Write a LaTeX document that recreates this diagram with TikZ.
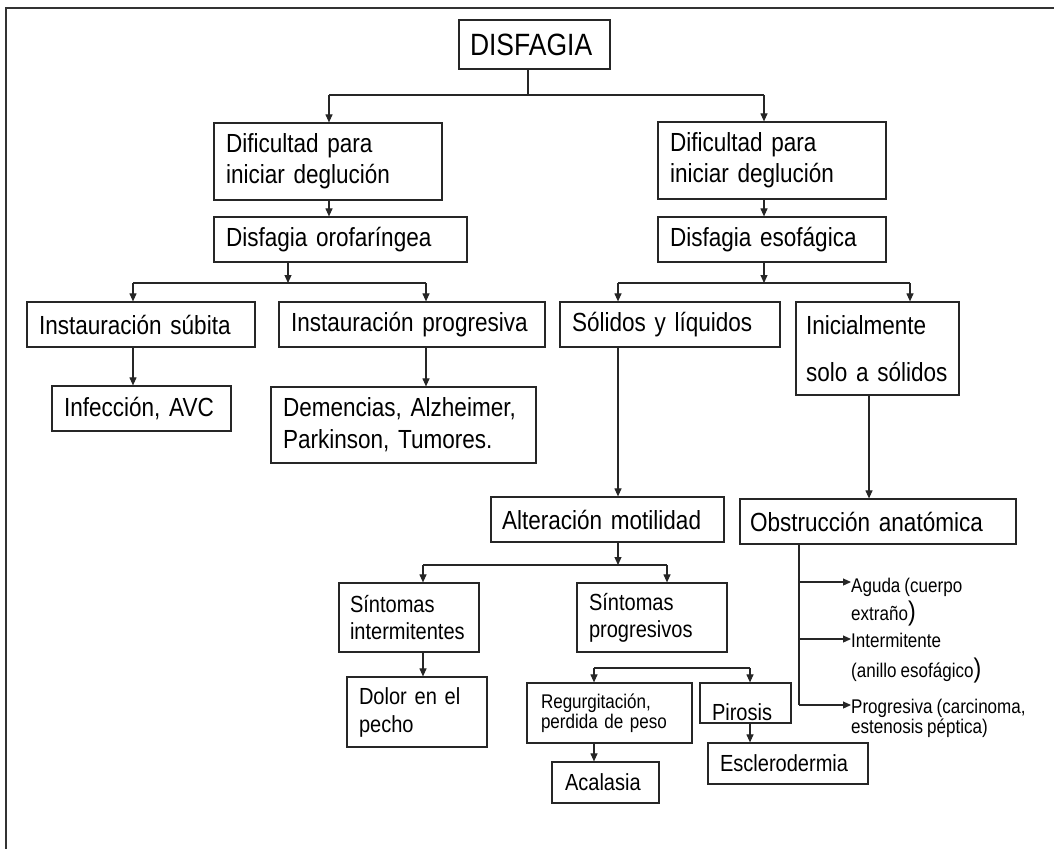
\documentclass[tikz,border=0pt]{standalone}
\usepackage{fontspec}
\setmainfont{Liberation Sans}[FakeStretch=0.86, WordSpace=0.86]
\usepackage{tikz}
\usetikzlibrary{arrows.meta}

\tikzset{
  caja/.style={draw=black!85, line width=1.2pt, align=left, inner xsep=12pt, inner ysep=0pt, font=\fontsize{26.2}{31}\selectfont},
  cajachica/.style={caja, font=\fontsize{23.3}{27}\selectfont},
  nota/.style={align=left, inner sep=0pt, anchor=north west},
  linea/.style={line width=1.1pt, black!85},
  flecha/.style={linea, -{Triangle[length=8pt,width=7pt]}}
}
\newcommand{\parGrande}{\fontsize{27}{30}\selectfont}

\begin{document}
\begin{tikzpicture}[x=1pt, y=-1pt]
        \useasboundingbox (0,0) rectangle (1054,849);
        % Marco
        \draw[line width=1.5pt, black!80] (1054,8) -- (6,8) -- (6,849);
        % Cajas del diagrama
        \node[caja, font=\fontsize{30.8}{31}\selectfont, inner xsep=11pt, text width=129pt, minimum height=49pt] (disfagia) at (534.5,44.5) {DISFAGIA};
        \node[caja, text width=204pt, minimum height=77pt] (difIzq) at (328,161.5) {Dificultad para\\iniciar deglución};
        \node[caja, text width=229pt, minimum height=45pt] (orofaringea) at (340.5,239.5) {Disfagia orofaríngea};
        \node[caja, text width=204pt, minimum height=77pt] (difDer) at (772,160.5) {Dificultad para\\iniciar deglución};
        \node[caja, text width=204pt, minimum height=45pt] (esofagica) at (772,239.5) {Disfagia esofágica};
        \node[caja, text width=204pt, minimum height=45pt] (subita) at (141,324.5) {Instauración súbita};
        \node[caja, text width=242pt, minimum height=45pt] (progresiva) at (412,324.5) {Instauración progresiva};
        \node[caja, text width=196pt, minimum height=45pt] (solidosLiq) at (670,324.5) {Sólidos y líquidos};
        \node[caja, font=\fontsize{26.2}{47}\selectfont, inner xsep=10pt, text width=143pt, minimum height=93pt] (inicial) at (877.5,348.5) {Inicialmente\\solo a sólidos};
        \node[caja, text width=155pt, minimum height=45pt] (infeccion) at (141.5,408.5) {Infección, AVC};
        \node[caja, font=\fontsize{26.2}{32}\selectfont, text width=241pt, minimum height=76pt] (demencias) at (403.5,425) {Demencias, Alzheimer,\\Parkinson, Tumores.};
        \node[caja, inner xsep=11pt, text width=211pt, minimum height=45pt] (motilidad) at (607.5,519.5) {Alteración motilidad};
        \node[caja, inner xsep=10pt, text width=256pt, minimum height=45pt] (obstruccion) at (878,521.5) {Obstrucción anatómica};
        \node[cajachica, inner xsep=11pt, text width=118pt, minimum height=69pt] (sintInter) at (409,617.5) {Síntomas\\intermitentes};
        \node[cajachica, text width=126pt, minimum height=69pt] (sintProg) at (652,617.5) {Síntomas\\progresivos};
        \node[cajachica, font=\fontsize{23.3}{28}\selectfont, text width=116pt, minimum height=70pt] (dolor) at (417,712) {Dolor en el\\pecho};
        \node[caja, font=\fontsize{19.8}{20}\selectfont, inner xsep=14pt, text width=137pt, minimum height=60pt] (regurg) at (609.5,713) {Regurgitación,\\perdida de peso};
        \node[cajachica, text width=67pt, text height=35.7pt, text depth=0pt, minimum height=40pt] (pirosis) at (745.5,703) {Pirosis};
        \node[cajachica, inner xsep=13pt, text width=81pt, minimum height=41pt] (acalasia) at (605.5,782.5) {Acalasia};
        \node[cajachica, text width=136pt, minimum height=41pt] (esclero) at (788,763.5) {Esclerodermia};
        % Textos de la obstrucción
        \node[nota, font=\fontsize{19.8}{28}\selectfont] (aguda) at (851,577.5) {Aguda (cuerpo\\extraño{\parGrande)}};
        \node[nota, font=\fontsize{19.8}{30}\selectfont] (intermit) at (851,632.8) {Intermitente\\(anillo esofágico{\parGrande)}};
        \node[nota, font=\fontsize{19.8}{20}\selectfont] (progres) at (851,698.5) {Progresiva (carcinoma,\\estenosis péptica)};
        % Puntos de división
        \coordinate (r0) at (528,95);
        \coordinate (r0i) at (329,95);
        \coordinate (r0d) at (764,95);
        \coordinate (r1) at (288,283);
        \coordinate (r1i) at (133,283);
        \coordinate (r1d) at (426,283);
        \coordinate (r2i) at (618,283);
        \coordinate (r2d) at (910,283);
        \coordinate (r3) at (869,400);
        \coordinate (r4i) at (423,565);
        \coordinate (r4d) at (667,565);
        \coordinate (r5i) at (594,668);
        \coordinate (r5d) at (750,668);
        \coordinate (ob) at (799,705);
        \coordinate (ob1) at (799,582);
        \coordinate (ob2) at (799,639);
        % Barras horizontales
        \draw[linea] (disfagia.south -| r0) -- (r0);
        \foreach \a/\b in {r0i/r0d, r1i/r1d, r2i/r2d, r4i/r4d, r5i/r5d} {
            \draw[linea] (\a) -- (\b);
        }
        \draw[flecha] (orofaringea.south -| r1) -- (r1);
        \draw[flecha] (esofagica.south -| r0d) -- (r0d |- r2i);
        \draw[flecha] (motilidad.south -| r2i) -- (r2i |- r4i);
        % Flechas hacia las cajas
        \foreach \p/\n in {r0i/difIzq, r0d/difDer, r1i/subita, r1d/progresiva, r2i/solidosLiq, r2d/inicial, r4i/sintInter, r4d/sintProg, r5i/regurg, r5d/pirosis} {
            \draw[flecha] (\p) -- (\p |- \n.north);
        }
        \draw[flecha] (r0i |- difIzq.south) -- (r0i |- orofaringea.north);
        \draw[flecha] (r0d |- difDer.south) -- (r0d |- esofagica.north);
        \draw[flecha] (r1i |- subita.south) -- (r1i |- infeccion.north);
        \draw[flecha] (r1d |- progresiva.south) -- (r1d |- demencias.north);
        \draw[flecha] (r2i |- solidosLiq.south) -- (r2i |- motilidad.north);
        \draw[flecha] (r3 |- inicial.south) -- (r3 |- obstruccion.north);
        \draw[flecha] (r4i |- sintInter.south) -- (r4i |- dolor.north);
        \draw[flecha] (r5i |- regurg.south) -- (r5i |- acalasia.north);
        \draw[flecha] (r5d |- pirosis.south) -- (r5d |- esclero.north);
        % Ramas de la obstrucción
        \draw[linea] (obstruccion.south -| ob) -- (ob);
        \draw[flecha] (ob1) -- (ob1 -| aguda.west);
        \draw[flecha] (ob2) -- (ob2 -| intermit.west);
        \draw[flecha] (ob) -- (ob -| progres.west);
\end{tikzpicture}
\end{document}
